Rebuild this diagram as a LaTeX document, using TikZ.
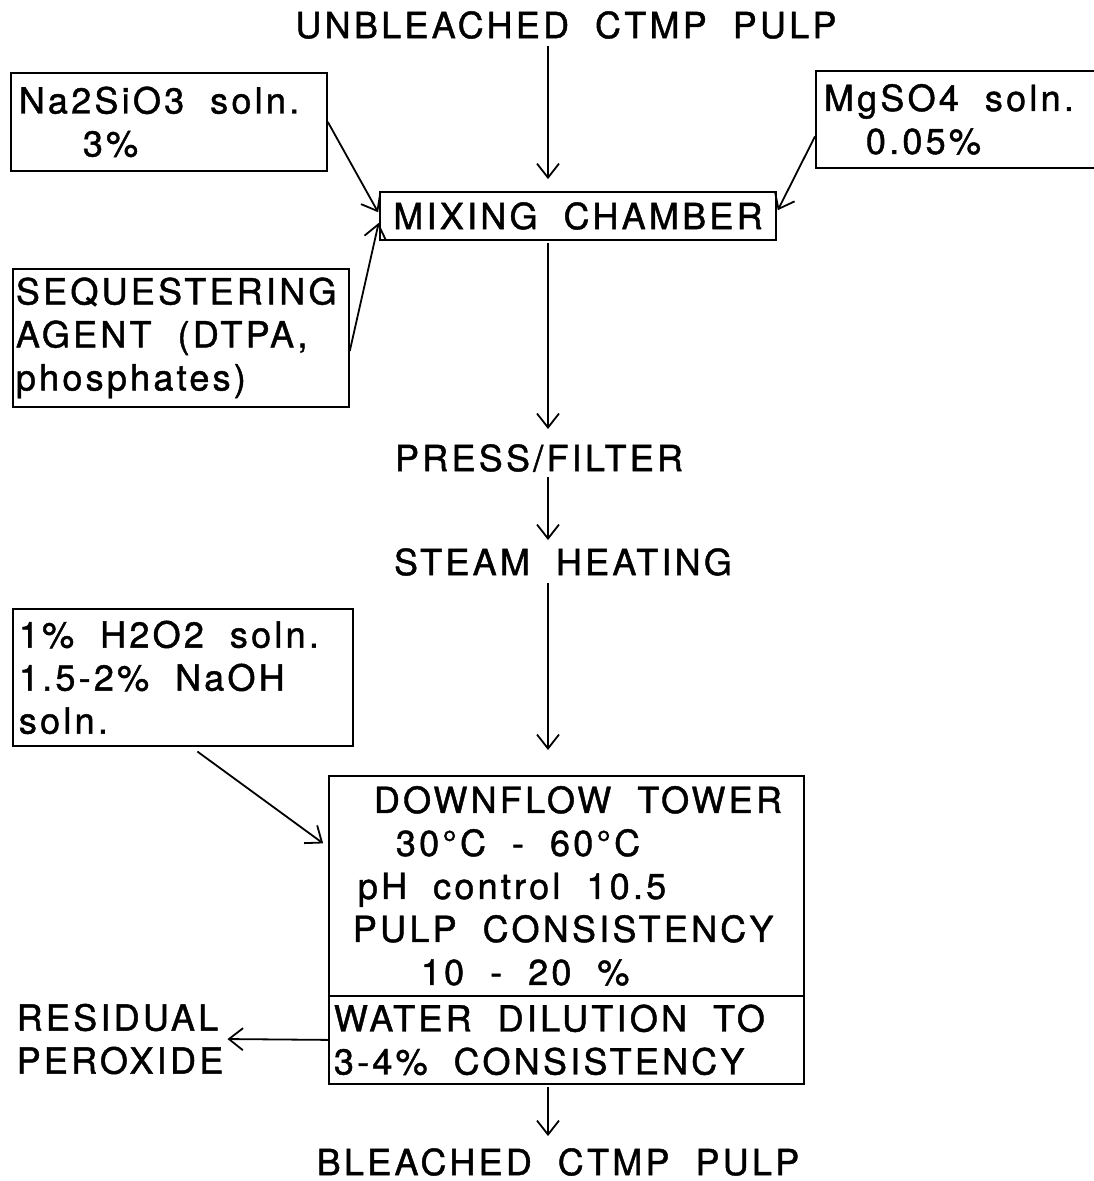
\documentclass[tikz,border=0pt]{standalone}
\usepackage{fontspec}
\newfontfamily\plotfont[LetterSpace=9,FakeBold=1.2]{TeX Gyre Heros}
\usepackage{tikz}
\usetikzlibrary{arrows.meta, positioning, calc}

\tikzset{
  lbl/.style={font=\plotfont\fontsize{36}{43}\selectfont, inner sep=0pt,
              execute at begin node={\spaceskip=26pt\relax}},
  box/.style={lbl, draw, line width=1.8pt, align=left, anchor=north west},
  flow/.style={-{Straight Barb[length=14pt,width=22pt,line width=1.8pt]}, line width=1.8pt},
}

\begin{document}
\begin{tikzpicture}[x=1pt, y=-1pt]
  \useasboundingbox (0,0) rectangle (1094,1181);
  \coordinate (spine) at (548,0);

  % feed and additives
  \node[lbl] (title) at (566,25) {UNBLEACHED CTMP PULP};
  \node[box, inner xsep=8pt, text width=300pt, minimum height=98pt] (sil) at (10,72)
    {Na2SiO3 soln.\\\hspace*{64pt}3\%};
  \node[box, inner xsep=8pt, text width=290pt, minimum height=97pt] (mgs) at (815,70)
    {MgSO4 soln.\\\hspace*{42pt}0.05\%};
  \node[lbl, draw, line width=1.8pt, minimum width=396pt, minimum height=48pt] (mix) at (578,216)
    {MIXING CHAMBER};
  \node[box, inner xsep=3pt, text width=330pt, minimum height=138pt] (seq) at (12,268)
    {SEQUESTERING\\AGENT (DTPA,\\phosphates)};

  % pretreatment
  \node[lbl] (press) at (539,458) {PRESS/FILTER};
  \node[lbl] (steam) at (563,562) {STEAM HEATING};
  \node[box, inner xsep=6pt, text width=328pt, minimum height=137pt] (perox) at (12,608)
    {1\% H2O2 soln.\\1.5-2\% NaOH\\soln.};

  % bleaching tower
  \node[box, inner xsep=24pt, text width=427pt, minimum height=220pt] (tower) at (328,775)
    {\hspace*{21pt}DOWNFLOW TOWER\\\hspace*{43pt}30°C - 60°C\\\hspace*{5pt}pH control 10.5\\PULP CONSISTENCY\\\hspace*{68pt}10 - 20 \%};
  \node[box, inner xsep=5pt, text width=465pt, minimum height=88pt] (dilute) at (328,995)
    {WATER DILUTION TO\\3-4\% CONSISTENCY};
  \node[lbl, align=left] (resid) at (120,1039) {RESIDUAL\\PEROXIDE};
  \node[lbl] (bleached) at (558,1162) {BLEACHED CTMP PULP};

  % connectors
  \draw[flow, shorten <=7pt, shorten >=12pt] (title.south -| spine) -- (mix.north -| spine);
  \draw[flow, shorten >=2pt] (sil.east) -- ([yshift=2pt]mix.west);
  \draw[flow, shorten >=2pt] ([yshift=-17pt]mgs.west) -- ([yshift=4pt]mix.east);
  \draw[flow, shorten >=2pt] ([yshift=-13pt]seq.east) -- ([yshift=-5pt]mix.west);
  \draw[flow, shorten <=2pt, shorten >=15pt] (mix.south -| spine) -- (press.north -| spine);
  \draw[flow, shorten <=5pt, shorten >=8pt] (press.south -| spine) -- (steam.north -| spine);
  \draw[flow, shorten <=7pt, shorten >=25pt] (steam.south -| spine) -- (tower.north -| spine);
  \draw[flow, shorten <=8pt, shorten >=6pt] ([xshift=8pt]perox.south) -- ([yshift=39pt]tower.west);
  \draw[flow, shorten >=4pt] (dilute.west) -- (resid.east);
  \draw[flow, shorten <=2pt, shorten >=12pt] (dilute.south -| spine) -- (bleached.north -| spine);
\end{tikzpicture}
\end{document}
